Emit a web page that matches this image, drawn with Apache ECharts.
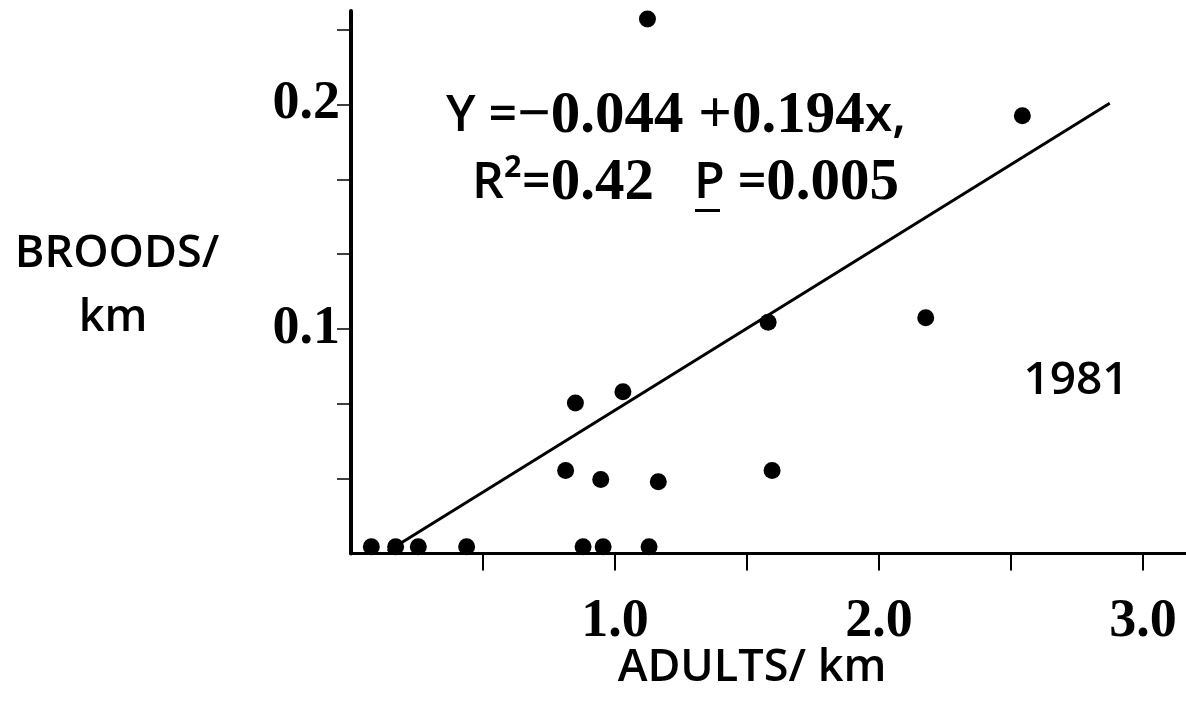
<!DOCTYPE html>
<html>
<head>
<meta charset="utf-8">
<script src="https://cdn.jsdelivr.net/npm/echarts@6/dist/echarts.min.js"></script>
<style>
  html, body { margin: 0; padding: 0; background: #fff; }
</style>
</head>
<body>
<div id="main" style="width: 1186px;height:714px;"></div>
<script>
// points (adults/km, broods/km)
var adults = [1.123, 2.543, 1.580, 2.177, 0.850, 1.030, 0.813, 0.946, 1.164, 1.595,
              0.077, 0.169, 0.255, 0.438, 0.879, 0.955, 1.129];
var broods = [0.238, 0.195, 0.103, 0.105, 0.067, 0.072, 0.037, 0.033, 0.032, 0.037,
              0.003, 0.003, 0.003, 0.003, 0.003, 0.003, 0.003];

// fitted line, end points as drawn
var lineX = [0.139, 2.874];
var lineY = [0.001, 0.2005];

// ticks and labels
var xTicks = [0.5, 1.0, 1.5, 2.0, 2.5, 3.0];
var xLabels = [1.0, 2.0, 3.0];
var yTicks = [1/30, 2/30, 3/30, 4/30, 5/30, 6/30, 7/30];
var yLabels = [0.1, 0.2];

var numFont = '"Liberation Serif", serif';
var txtFont = '"Open Sans", sans-serif';

var pts = adults.map(function (x, i) { return [x, broods[i]]; });
var fit = lineX.map(function (x, i) { return [x, lineY[i]]; });

var eqRich = {
  s: { fontFamily: txtFont, fontWeight: 600, fontSize: 50, fill: '#000' },
  n: { fontFamily: numFont, fontWeight: 'bold', fontSize: 59, fill: '#000' }
};

var myChart = echarts.init(document.getElementById('main'));

var option = {
  backgroundColor: '#fff',
  animation: false,
  grid: {
    left: 351,
    top: 11,
    width: 844.8,
    height: 542.5,
    containLabel: false,
    outerBoundsMode: 'none'
  },
  xAxis: {
    type: 'value',
    min: 0,
    max: 3.2,
    splitLine: { show: false },
    axisLine: { show: true, onZero: false, lineStyle: { color: '#000', width: 3 } },
    axisTick: { show: true, inside: false, length: 17, customValues: xTicks,
                lineStyle: { color: '#000', width: 2 } },
    axisLabel: {
      customValues: xLabels,
      margin: 42,
      color: '#000',
      fontFamily: numFont,
      fontWeight: 'bold',
      fontSize: 54,
      formatter: function (v) { return v.toFixed(1); }
    }
  },
  yAxis: {
    type: 'value',
    min: 0,
    max: 0.2416,
    splitLine: { show: false },
    axisLine: { show: true, onZero: false, lineStyle: { color: '#000', width: 4 } },
    axisTick: { show: true, inside: false, length: 14, customValues: yTicks,
                lineStyle: { color: '#000', width: 1.5 } },
    axisLabel: {
      customValues: yLabels,
      margin: 11,
      color: '#000',
      fontFamily: numFont,
      fontWeight: 'bold',
      fontSize: 54,
      formatter: function (v) { return v.toFixed(1); }
    }
  },
  graphic: [
    {
      type: 'text',
      style: {
        x: 117, y: 254, text: 'BROODS/', textAlign: 'center', textVerticalAlign: 'middle',
        font: '600 45px ' + txtFont, fill: '#000'
      }
    },
    {
      type: 'text',
      style: {
        x: 113, y: 318, text: 'km', textAlign: 'center', textVerticalAlign: 'middle',
        font: '600 45px ' + txtFont, fill: '#000'
      }
    },
    {
      type: 'text',
      style: {
        x: 752, y: 668, text: 'ADULTS/ km', textAlign: 'center', textVerticalAlign: 'middle',
        font: '600 45px ' + txtFont, fill: '#000'
      }
    },
    {
      type: 'text',
      style: {
        x: 1076, y: 381, text: '1981', textAlign: 'center', textVerticalAlign: 'middle',
        font: '600 46px ' + txtFont, fill: '#000'
      }
    },
    {
      type: 'text',
      style: {
        x: 446, y: 117, textAlign: 'left', textVerticalAlign: 'middle',
        text: '{s|Y =}{n|−0.044 +0.194}{s|x,}',
        rich: eqRich
      }
    },
    {
      type: 'text',
      style: {
        x: 472, y: 184, textAlign: 'left', textVerticalAlign: 'middle',
        text: '{s|R²=}{n|0.42}',
        rich: eqRich
      }
    },
    {
      type: 'text',
      style: {
        x: 694, y: 184, textAlign: 'left', textVerticalAlign: 'middle',
        text: '{s|P =}{n|0.005}',
        rich: eqRich
      }
    },
    {
      type: 'rect',
      shape: { x: 695, y: 209, width: 25, height: 3 },
      style: { fill: '#000' }
    }
  ],
  series: [
    {
      name: 'fit',
      type: 'line',
      data: fit,
      symbol: 'none',
      lineStyle: { color: '#000', width: 3 },
      z: 2
    },
    {
      name: 'sites',
      type: 'scatter',
      data: pts,
      symbol: 'circle',
      symbolSize: 17,
      itemStyle: { color: '#000', opacity: 1 },
      z: 3
    }
  ]
};

myChart.setOption(option);
</script>
</body>
</html>
